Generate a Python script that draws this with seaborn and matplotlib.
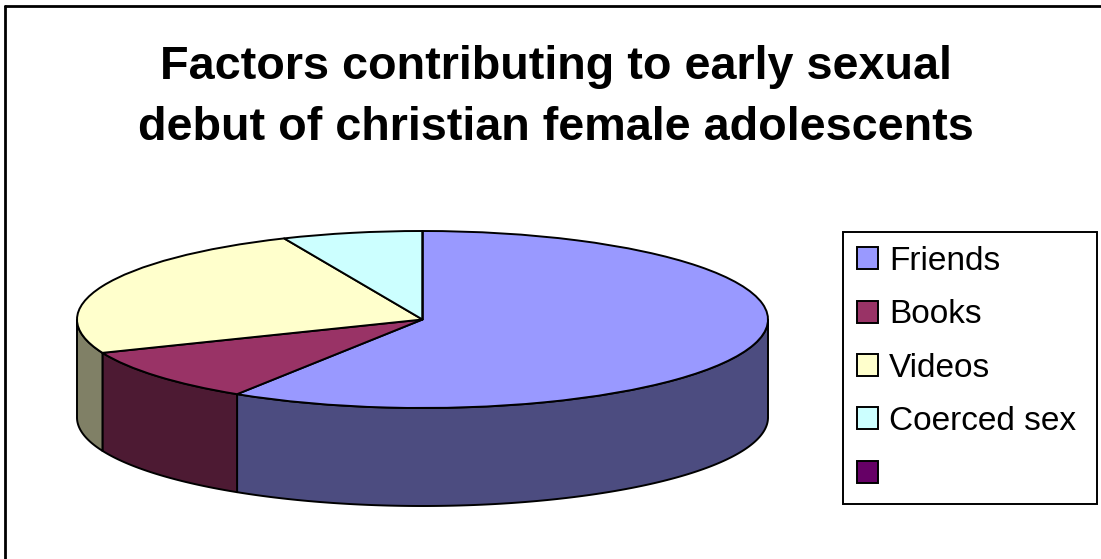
import numpy as np
import matplotlib
matplotlib.use("Agg")
import matplotlib.pyplot as plt
import seaborn as sns
from matplotlib.lines import Line2D

# ---- data ----
categories = ["Friends", "Books", "Videos", "Coerced sex", ""]
counts = [36, 6, 15, 4, 0]
top_colors = ["#9999FF", "#993366", "#FFFFCC", "#CCFFFF", "#660066"]
side_colors = ["#4C4C80", "#4D1A33", "#808066", "#668080", "#330033"]
title = "Factors contributing to early sexual\ndebut of christian female adolescents"

sns.set_theme(style="white")
plt.rcParams["font.family"] = ["Liberation Sans", "DejaVu Sans"]
plt.rcParams["text.color"] = "black"

W, H = 1101, 559
fig = plt.figure(figsize=(W / 100, H / 100), dpi=100)
fig.patch.set_facecolor("white")

# geometry of the tilted pie (pixels)
cx, cy, rx, ry = 422.5, 319.5, 345.5, 88.5
depth = 98 / ry
xl = (-1.05, 1.05)
yl = (-1.0 - depth - 0.15, 1.12)
left_px = cx + xl[0] * rx
width_px = (xl[1] - xl[0]) * rx
top_px = cy - yl[1] * ry
bottom_px = cy - yl[0] * ry
ax = fig.add_axes([left_px / W, 1 - bottom_px / H, width_px / W, (bottom_px - top_px) / H])

lw = 1.4
total = float(sum(counts))
cum = np.concatenate([[0], np.cumsum(counts)])
# side walls (front half only)
for i, c in enumerate(counts):
    if c <= 0:
        continue
    th1 = 90 - cum[i] / total * 360
    th2 = 90 - cum[i + 1] / total * 360
    lo, hi = max(th2, -180), min(th1, 0)
    if hi <= lo:
        continue
    t = np.radians(np.linspace(lo, hi, 200))
    xs, ys = np.cos(t), np.sin(t)
    px = np.concatenate([xs, xs[::-1]])
    py = np.concatenate([ys, ys[::-1] - depth])
    ax.fill(px, py, facecolor=side_colors[i], edgecolor="black", linewidth=lw, joinstyle="round", zorder=1)

wedges, _ = ax.pie(counts, colors=top_colors, startangle=90, counterclock=False,
                   radius=1, center=(0, 0),
                   wedgeprops=dict(edgecolor="black", linewidth=lw, joinstyle="round"))
for w in wedges:
    w.set_zorder(2)
ax.set_aspect("auto")
ax.set_xlim(*xl)
ax.set_ylim(*yl)
ax.axis("off")

# title
fig.text(556 / W, 1 - 45 / H, title, ha="center", va="top", fontsize=33.7,
         fontweight="bold", linespacing=1.5, color="black")

# legend
leg = fig.legend(wedges, categories, loc="upper left",
                 bbox_to_anchor=(843 / W, 1 - 232 / H, (1097 - 843) / W, 0.0),
                 mode="expand", borderaxespad=0, fontsize=24,
                 handlelength=0.63, handleheight=0.63, handletextpad=0.33,
                 borderpad=0.42, labelspacing=0.67, frameon=True, fancybox=False,
                 framealpha=1, edgecolor="black", labelcolor="black")
leg.get_frame().set_linewidth(1.4)

# outer chart border (top and left edges visible)
fig.add_artist(Line2D([5 / W, 5 / W], [0, 1 - 6 / H], transform=fig.transFigure, color="black", linewidth=2))
fig.add_artist(Line2D([5 / W, 1], [1 - 6 / H, 1 - 6 / H], transform=fig.transFigure, color="black", linewidth=2))

fig.savefig("out.png", dpi=100, facecolor="white")
